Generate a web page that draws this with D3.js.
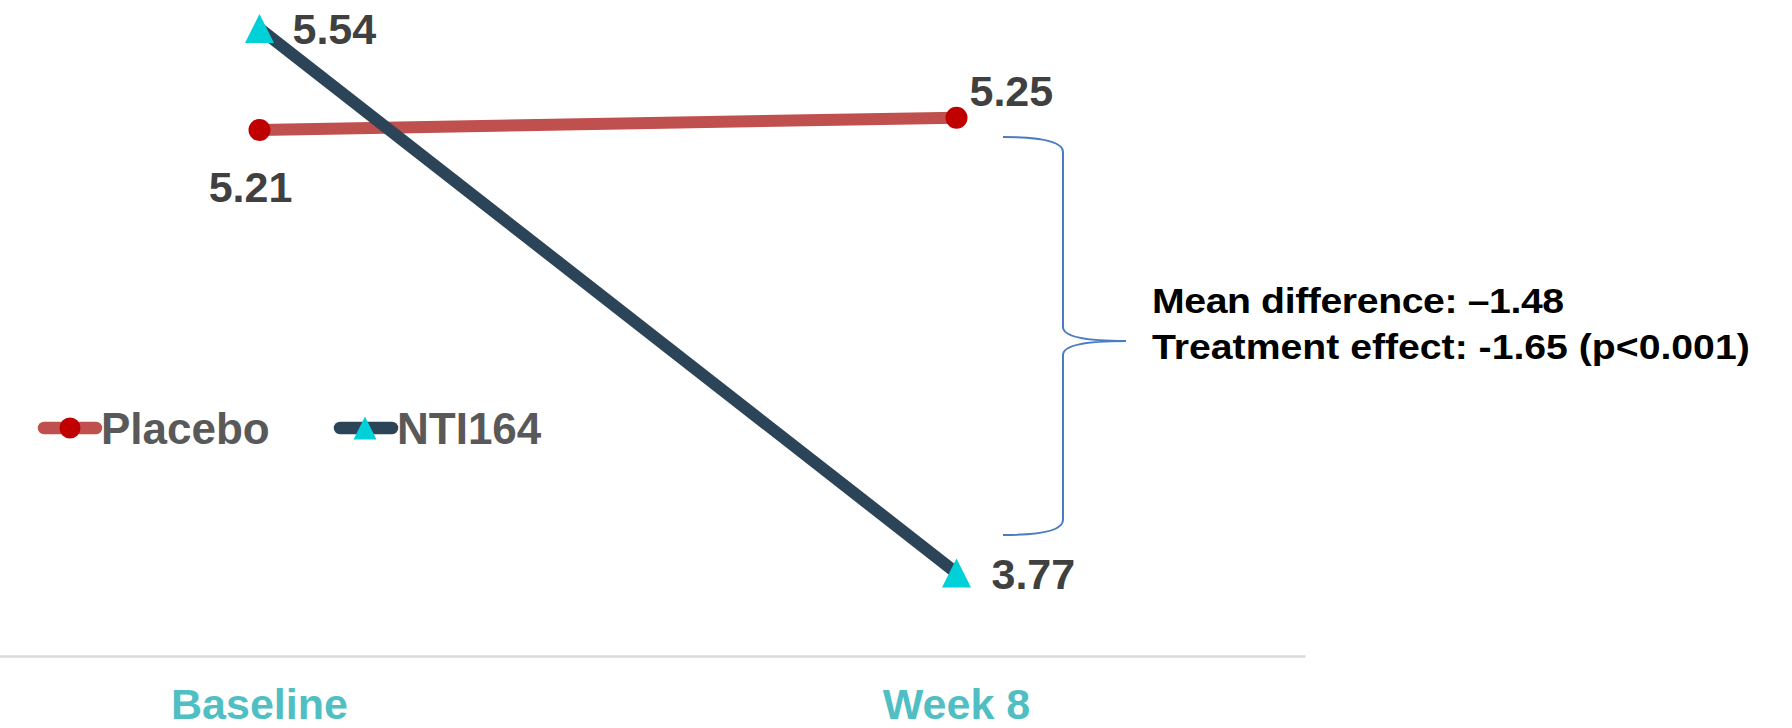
<!DOCTYPE html>
<html>
<head>
<meta charset="utf-8">
<script src="https://cdn.jsdelivr.net/npm/d3@7"></script>
<style>
  body { margin: 0; background: #fff; }
  svg { display: block; font-family: "Liberation Sans", Arial, sans-serif; }
</style>
</head>
<body>
<div id="chart-div"></div>
<script>
// data
var categories = ["Baseline", "Week 8"];
var placeboValues = [5.21, 5.25];
var ntiValues = [5.54, 3.77];
var seriesNames = ["Placebo", "NTI164"];
var annotationLines = ["Mean difference: \u20131.48", "Treatment effect: -1.65 (p<0.001)"];

var width = 1792, height = 728;

var svg = d3.select("#chart-div")
    .append("svg")
    .attr("width", width)
    .attr("height", height);

var x = d3.scaleBand()
    .domain(categories)
    .range([-89, 1305]);

var y = d3.scaleLinear()
    .domain([3.5, 5.6])
    .range([656, 10]);

var cx = function(i) { return x(categories[i]) + x.bandwidth() / 2; };

// x axis
var xAxis = svg.append("g")
    .attr("class", "x axis")
    .attr("transform", "translate(0,656)")
    .call(d3.axisBottom(x).tickSize(0));

xAxis.select(".domain")
    .attr("stroke", "#d9d9d9")
    .attr("stroke-width", 2.5);

xAxis.selectAll("text")
    .attr("y", 63)
    .attr("dy", 0)
    .style("font-family", "'Liberation Sans', Arial, sans-serif")
    .style("font-size", "43px")
    .style("font-weight", "bold")
    .style("fill", "#4fbfc4");

var line = d3.line()
    .x(function(d, i) { return cx(i); })
    .y(function(d) { return y(d); });

var triangle = function(w, h) {
    return "M0," + (-h / 2) + "L" + (w / 2) + "," + (h / 2) + "L" + (-w / 2) + "," + (h / 2) + "Z";
};

// Placebo
svg.append("path")
    .datum(placeboValues)
    .attr("d", line)
    .attr("fill", "none")
    .attr("stroke", "#c0504d")
    .attr("stroke-width", 12)
    .attr("stroke-linecap", "round");

svg.selectAll(".placebo-dot")
    .data(placeboValues)
    .enter().append("circle")
    .attr("class", "placebo-dot")
    .attr("cx", function(d, i) { return cx(i); })
    .attr("cy", function(d) { return y(d); })
    .attr("r", 11)
    .attr("fill", "#c00000");

// NTI164
svg.append("path")
    .datum(ntiValues)
    .attr("d", line)
    .attr("fill", "none")
    .attr("stroke", "#2c4457")
    .attr("stroke-width", 12)
    .attr("stroke-linecap", "butt");

svg.selectAll(".nti-tri")
    .data(ntiValues)
    .enter().append("path")
    .attr("class", "nti-tri")
    .attr("transform", function(d, i) { return "translate(" + cx(i) + "," + y(d) + ")"; })
    .attr("d", triangle(29, 29))
    .attr("fill", "#00d0d8");

// data labels
var labelStyle = function(sel) {
    sel.style("font-size", "43px")
       .style("font-weight", "bold")
       .style("fill", "#404040");
};

svg.selectAll(".placebo-label")
    .data(placeboValues)
    .enter().append("text")
    .attr("class", "placebo-label")
    .attr("x", function(d, i) { return i == 0 ? cx(i) - 9 : cx(i) + 13; })
    .attr("y", function(d, i) { return i == 0 ? y(d) + 72 : y(d) - 12; })
    .attr("text-anchor", function(d, i) { return i == 0 ? "middle" : "start"; })
    .text(function(d) { return d.toFixed(2); })
    .call(labelStyle);

svg.selectAll(".nti-label")
    .data(ntiValues)
    .enter().append("text")
    .attr("class", "nti-label")
    .attr("x", function(d, i) { return cx(i) + (i == 0 ? 33 : 35); })
    .attr("y", function(d, i) { return y(d) + 16; })
    .text(function(d) { return d.toFixed(2); })
    .call(labelStyle);

// brace
svg.append("path")
    .attr("d", "M1003,137 Q1063,137 1063,152 L1063,327 Q1063,341 1126,341 Q1063,341 1063,355 L1063,520 Q1063,535 1003,535")
    .attr("fill", "none")
    .attr("stroke", "#4a7cc4")
    .attr("stroke-width", 2);

var note = svg.append("g")
    .attr("transform", "translate(1152,0) scale(1.12,1)");

note.selectAll("text")
    .data(annotationLines)
    .enter().append("text")
    .attr("x", 0)
    .attr("y", function(d, i) { return 313 + i * 46; })
    .attr("textLength", function(d, i) { return i == 0 ? 368 : null; })
    .style("font-size", "35px")
    .style("font-weight", "bold")
    .style("fill", "#000")
    .text(function(d) { return d; });

// legend
var legend = svg.append("g").attr("class", "legend");
var legendX = [38, 334];

legend.selectAll("line")
    .data(seriesNames)
    .enter().append("line")
    .attr("x1", function(d, i) { return legendX[i] + 6; })
    .attr("x2", function(d, i) { return legendX[i] + 58; })
    .attr("y1", 428)
    .attr("y2", 428)
    .attr("stroke", function(d, i) { return i == 0 ? "#c0504d" : "#2c4457"; })
    .attr("stroke-width", 12.5)
    .attr("stroke-linecap", "round");

legend.append("circle")
    .attr("cx", legendX[0] + 32)
    .attr("cy", 428)
    .attr("r", 10.5)
    .attr("fill", "#c00000");

legend.append("path")
    .attr("transform", "translate(" + (legendX[1] + 31) + ",428)")
    .attr("d", triangle(23, 23))
    .attr("fill", "#00d0d8");

legend.selectAll("text")
    .data(seriesNames)
    .enter().append("text")
    .attr("x", function(d, i) { return legendX[i] + 63; })
    .attr("y", 444)
    .style("font-size", "44px")
    .style("font-weight", "bold")
    .style("fill", "#595959")
    .text(function(d) { return d; });
</script>
</body>
</html>
